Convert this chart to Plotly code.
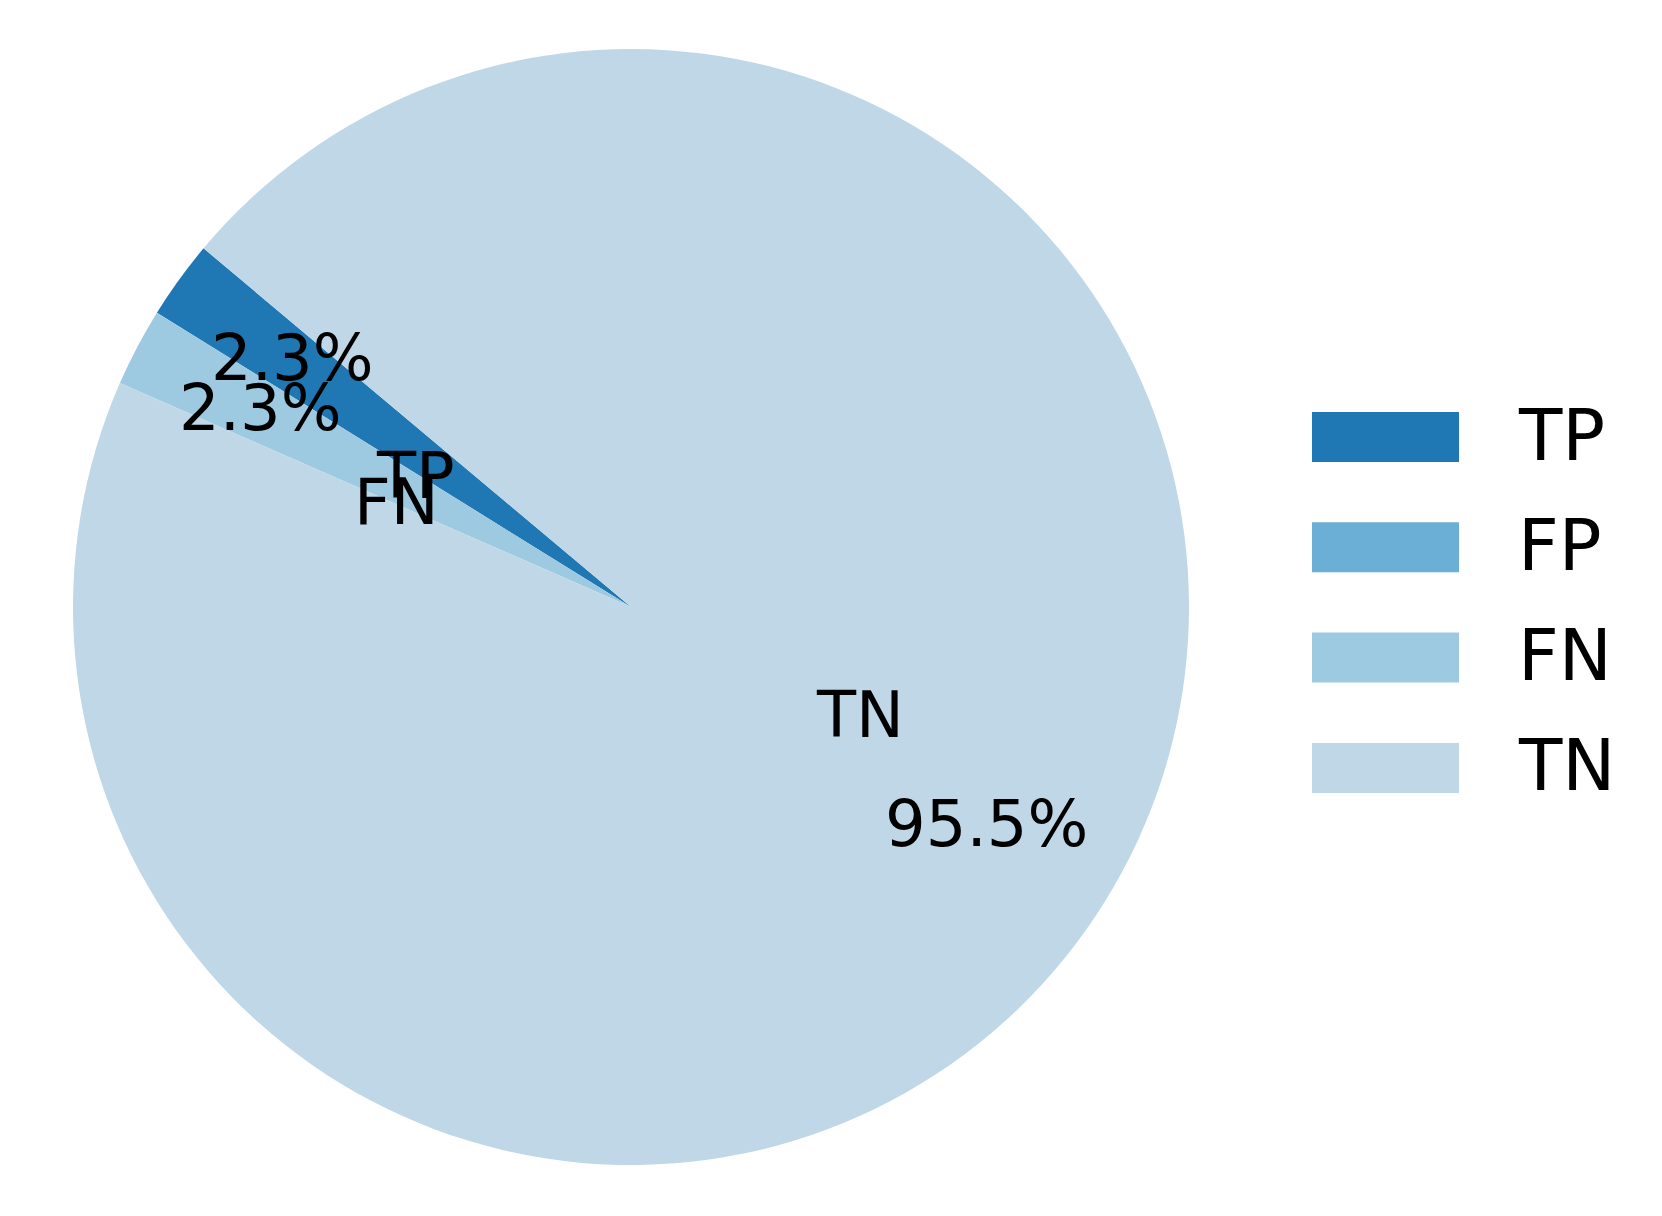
import math
import plotly.graph_objects as go

labels = ["TP", "FP", "FN", "TN"]
values = [2.27, 0.0, 2.27, 95.46]
colors = ["#1f77b4", "#6baed6", "#9ecae1", "#bfd7e6"]

W, H = 1662, 1216
start_angle = 140          # degrees, counterclockwise from 3 o'clock
cx, cy, r = 623, 617, 558  # pie centre (from bottom) and radius in px
label_dist = 0.385
pct_dist = 0.75

total = sum(values)
# plotly: counterclockwise slices, first slice sits clockwise of `rotation`
rotation = 90 - start_angle - 360 * values[0] / total

fig = go.Figure()
fig.add_trace(go.Pie(
    labels=labels,
    values=values,
    sort=False,
    direction="counterclockwise",
    rotation=rotation,
    marker=dict(colors=colors, line=dict(width=0)),
    textinfo="none",
    hoverinfo="label+percent",
    showlegend=False,
    domain=dict(x=[(cx - r) / W, (cx + r) / W], y=[(cy - r) / H, (cy + r) / H]),
))

font = dict(family="DejaVu Sans", color="black")

# slice labels and percentages, placed like matplotlib's pie
theta = start_angle
for lab, v in zip(labels, values):
    frac = v / total
    mid = math.radians(theta + 180 * frac)
    theta += 360 * frac
    if v == 0:
        continue
    c, s = math.cos(mid), math.sin(mid)
    lx = cx + label_dist * r * c
    ly = cy + label_dist * r * s
    fig.add_annotation(x=lx / W, y=ly / H, xref="paper", yref="paper",
                       text=lab, showarrow=False, yshift=5,
                       xanchor="left" if c > 0 else "right", yanchor="middle",
                       font=dict(size=64, **font))
    px = cx + pct_dist * r * c
    py = cy + pct_dist * r * s
    fig.add_annotation(x=px / W, y=py / H, xref="paper", yref="paper",
                       text=f"{100 * frac:.1f}%", showarrow=False, yshift=4,
                       xanchor="center", yanchor="middle",
                       font=dict(size=64, **font))

# legend drawn by hand so the patches match the original size
leg_x0, leg_x1, leg_text_x = 1304, 1451, 1508
leg_y0, leg_step, patch_h = 429, 110.3, 50
for i, (lab, col) in enumerate(zip(labels, colors)):
    yc = H - (leg_y0 + i * leg_step)
    fig.add_shape(type="rect", xref="paper", yref="paper",
                  x0=leg_x0 / W, x1=leg_x1 / W,
                  y0=(yc - patch_h / 2) / H, y1=(yc + patch_h / 2) / H,
                  fillcolor=col, line=dict(width=0))
    fig.add_annotation(x=leg_text_x / W, y=yc / H, xref="paper", yref="paper",
                       text=lab, showarrow=False, xanchor="left", yanchor="middle",
                       yshift=2, font=dict(size=71, **font))

fig.update_layout(
    width=W, height=H,
    margin=dict(l=0, r=0, t=0, b=0),
    paper_bgcolor="white",
    plot_bgcolor="white",
)

fig.write_html("out.html")
